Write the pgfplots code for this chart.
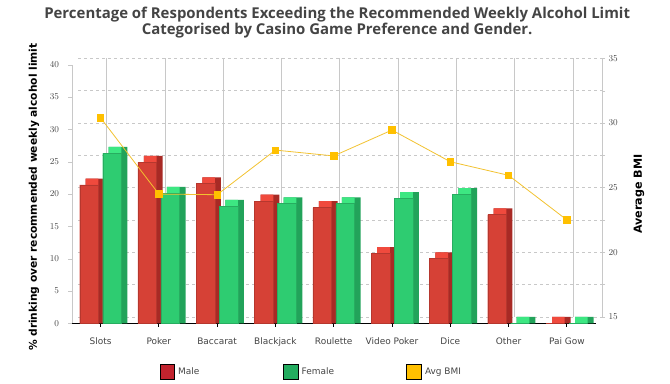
\documentclass[border=0pt]{standalone}
\usepackage{fontspec}
\setmainfont{DejaVu Sans}
\newfontfamily\titlefont{Open Sans}
\usepackage{pgfplots}
\usepackage{pgfplotstable}
\pgfplotsset{compat=1.18}

\definecolor{mfront}{HTML}{D64136}
\definecolor{mside}{HTML}{A82A25}
\definecolor{mtop}{HTML}{F04A3D}
\definecolor{ffront}{HTML}{2ECC71}
\definecolor{fside}{HTML}{22A35A}
\definecolor{ftop}{HTML}{3DE782}
\definecolor{legmale}{HTML}{C1232E}
\definecolor{legfemale}{HTML}{23AC5F}
\definecolor{bmi}{HTML}{FFC000}
\definecolor{bmiline}{HTML}{F2C230}
\definecolor{txt}{HTML}{444444}
\definecolor{gridc}{HTML}{C8C8C8}

\pgfplotstableread{
idx male female bmi
0 21.4 26.3 30.4
1 24.9 20.1 24.5
2 21.6 18.1 24.45
3 18.9 18.5 27.9
4 17.9 18.5 27.45
5 10.8 19.3 29.45
6 10.0 19.9 27.0
7 16.8 0 25.95
8 0 0 22.5
}\data

\begin{document}
\begin{tikzpicture}
\useasboundingbox (-72bp,-60.7bp) rectangle (598bp,323.3bp);
% back plane: grid and right axis
\begin{axis}[
  at={(6bp,6.4bp)}, anchor=south west,
  scale only axis, width=524bp, height=258.6bp,
  xmin=-0.49, xmax=8.5, ymin=15, ymax=35,
  axis x line*=bottom, axis y line*=right,
  x axis line style={draw=none},
  y axis line style={gridc},
  xtick={0,...,8}, xticklabels={},
  major x tick style={draw=none},
  xmajorgrids, major x grid style={gridc, line width=0.6bp},
  ytick={15,20,...,35}, minor ytick={17.5,22.5,27.5,32.5},
  ymajorgrids, yminorgrids,
  major y grid style={gridc, dash pattern=on 3bp off 3bp, line width=0.6bp},
  minor y grid style={gridc, dash pattern=on 3bp off 3bp, line width=0.6bp},
  ytick style={gridc}, tick align=outside, major tick length=3bp, minor tick length=3bp,
  yticklabel style={font=\fontsize{9}{10}\selectfont, text=txt},
  ylabel={Average BMI},
  ylabel style={at={(axis description cs:1.0706,0.475)}, anchor=center, font=\bfseries\fontsize{11.2}{13}\selectfont},
]
\end{axis}
% front plane: bars and left axis
\begin{axis}[
  at={(0bp,0bp)}, anchor=south west,
  scale only axis, width=524bp, height=258.6bp,
  xmin=-0.49, xmax=8.5, ymin=0, ymax=40,
  axis x line*=bottom, axis y line*=left,
  x axis line style={black, line width=1.2bp},
  y axis line style={gridc},
  xtick={0,...,8},
  xticklabels={Slots,Poker,Baccarat,Blackjack,Roulette,Video Poker,Dice,Other,Pai Gow},
  x tick style={black, line width=0.8bp},
  ytick={0,5,...,40}, y tick style={gridc},
  tick align=outside, major tick length=3.5bp,
  ticklabel style={font=\fontsize{9}{10}\selectfont, text=txt},
  xticklabel style={yshift=-7.5bp},
  yticklabel style={xshift=-6bp},
  ylabel={\% drinking over recommended weekly alcohol limit},
  ylabel style={at={(axis description cs:-0.0725,0.488)}, anchor=center, font=\bfseries\fontsize{10.7}{12}\selectfont},
  title={Percentage of Respondents Exceeding the Recommended Weekly Alcohol Limit\\Categorised by Casino Game Preference and Gender.},
  title style={at={(axis description cs:0.506,1.2289)}, anchor=north, yshift=-7bp, inner sep=0pt, align=center, font=\titlefont\bfseries\fontsize{15}{15}\selectfont, text=txt},
]
% male
\addplot[ybar, bar width=18.7bp, bar shift=-5.5bp, fill=mside, draw=none] table[x=idx, y expr=\thisrow{male}+0.99]{\data};
\addplot[ybar, bar width=12.7bp, bar shift=-8.5bp, fill=mtop, draw=none] table[x=idx, y expr=\thisrow{male}+0.99]{\data};
\addplot[ybar, bar width=18.7bp, bar shift=-11.5bp, fill=mfront, draw=mfront!85!black, line width=0.4bp] table[x=idx, y=male]{\data};
% female
\addplot[ybar, bar width=18.7bp, bar shift=17.5bp, fill=fside, draw=none] table[x=idx, y expr=\thisrow{female}+0.99]{\data};
\addplot[ybar, bar width=12.7bp, bar shift=14.5bp, fill=ftop, draw=none] table[x=idx, y expr=\thisrow{female}+0.99]{\data};
\addplot[ybar, bar width=18.7bp, bar shift=11.5bp, fill=ffront, draw=ffront!85!black, line width=0.4bp] table[x=idx, y=female]{\data};
\end{axis}
% BMI line and legend
\begin{axis}[
  at={(0bp,6.4bp)}, anchor=south west,
  scale only axis, width=524bp, height=258.6bp,
  xmin=-0.49, xmax=8.5, ymin=15, ymax=35,
  hide axis,
  legend columns=3,
  legend style={at={(axis description cs:0.167,-0.213)}, anchor=west, draw=none, fill=none,
    inner sep=0pt, outer sep=0pt, font=\fontsize{9}{10}\selectfont, text=txt,
    nodes={inner sep=0pt, anchor=west}, column sep=0pt},
  legend image code/.code={\fill[#1] (0bp,-7.3bp) rectangle (14.6bp,7.3bp); \path (18.3bp,0bp);},
]
\addlegendimage{fill=legmale}
\addlegendentry{\makebox[104.7bp][l]{Male}}
\addlegendimage{fill=legfemale}
\addlegendentry{\makebox[104.7bp][l]{Female}}
\addlegendimage{fill=bmi}
\addlegendentry{\makebox[104.7bp][l]{Avg BMI}}
\addplot[forget plot, bmiline, line width=0.8bp, mark=square*, mark size=3.2bp, mark options={fill=bmi, draw=bmi, solid}] table[x=idx, y=bmi]{\data};
\end{axis}
\end{tikzpicture}
\end{document}
